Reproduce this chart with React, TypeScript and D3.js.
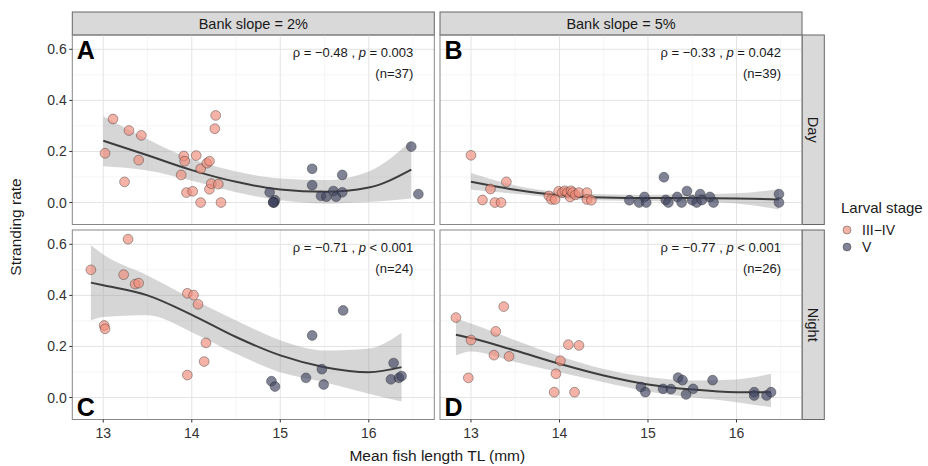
import React from 'react';
import * as d3 from 'd3';

// stage labels
const stages = ['III−IV', 'V'];
const columns = ['Bank slope = 2%', 'Bank slope = 5%'];
const rows = ['Day', 'Night'];
const xTicks = [13, 14, 15, 16];
const yTicks = [0, 0.2, 0.4, 0.6];

// panel A: day, 2%
const aEarly = [[13.02,0.193],[13.11,0.327],[13.24,0.081],[13.29,0.282],[13.40,0.166],[13.43,0.263],[13.88,0.108],[13.91,0.182],[13.92,0.162],[13.94,0.039],[14.01,0.044],[14.05,0.184],[14.10,0.132],[14.10,0.0],[14.17,0.154],[14.20,0.162],[14.20,0.052],[14.22,0.074],[14.26,0.289],[14.27,0.341],[14.30,0.072],[14.33,0.0]];
const aLate = [[14.88,0.040],[14.93,0.0],[14.94,0.009],[14.92,0.002],[14.92,0.0],[15.36,0.132],[15.36,0.068],[15.46,0.026],[15.52,0.023],[15.60,0.045],[15.63,0.023],[15.70,0.040],[15.70,0.108],[16.48,0.219],[16.56,0.033]];
const aFitX = [13.0, 13.5, 14.0, 14.5, 15.0, 15.5, 16.0, 16.48];
const aFit = [0.242, 0.185, 0.127, 0.081, 0.051, 0.042, 0.059, 0.129];
const aLo = [0.142, 0.125, 0.085, 0.040, 0.009, -0.004, 0.002, 0.016];
const aHi = [0.338, 0.248, 0.170, 0.122, 0.094, 0.088, 0.122, 0.242];

// panel B: day, 5%
const bEarly = [[13.0,0.185],[13.13,0.010],[13.22,0.053],[13.27,0.0],[13.34,0.0],[13.40,0.081],[13.88,0.026],[13.91,0.012],[13.95,0.012],[13.99,0.044],[14.03,0.039],[14.06,0.046],[14.09,0.039],[14.12,0.022],[14.13,0.046],[14.15,0.039],[14.18,0.030],[14.22,0.039],[14.31,0.039],[14.31,0.012],[14.36,0.009]];
const bLate = [[14.79,0.009],[14.90,0.0],[14.96,0.022],[14.98,0.0],[15.18,0.099],[15.20,0.010],[15.23,0.0],[15.33,0.022],[15.38,0.0],[15.44,0.045],[15.50,0.009],[15.55,0.0],[15.59,0.033],[15.61,0.010],[15.70,0.022],[15.74,0.0],[16.48,0.033],[16.48,0.0]];
const bFitX = [13.0, 13.5, 14.0, 14.5, 15.0, 15.5, 16.0, 16.48];
const bFit = [0.081, 0.050, 0.029, 0.020, 0.018, 0.018, 0.016, 0.012];
const bLo = [0.050, 0.034, 0.017, 0.008, 0.006, 0.004, -0.004, -0.027];
const bHi = [0.116, 0.067, 0.041, 0.032, 0.030, 0.032, 0.036, 0.052];

// panel C: night, 2%
const cEarly = [[12.86,0.50],[13.01,0.282],[13.02,0.269],[13.28,0.62],[13.23,0.481],[13.36,0.444],[13.40,0.448],[13.95,0.408],[14.02,0.401],[14.07,0.365],[13.95,0.088],[14.16,0.214],[14.14,0.141]];
const cLate = [[14.90,0.064],[14.94,0.043],[15.29,0.077],[15.36,0.243],[15.47,0.111],[15.49,0.051],[15.71,0.341],[16.25,0.071],[16.28,0.135],[16.34,0.077],[16.37,0.084]];
const cFitX = [12.86, 13.0, 13.5, 14.0, 14.5, 15.0, 15.5, 16.0, 16.37];
const cFit = [0.450, 0.440, 0.400, 0.324, 0.237, 0.165, 0.119, 0.099, 0.119];
const cLo = [0.302, 0.315, 0.322, 0.256, 0.171, 0.099, 0.060, 0.015, -0.016];
const cHi = [0.596, 0.560, 0.478, 0.387, 0.302, 0.224, 0.184, 0.192, 0.254];

// panel D: night, 5%
const dEarly = [[12.83,0.313],[13.0,0.225],[12.97,0.077],[13.28,0.259],[13.26,0.166],[13.37,0.356],[13.43,0.161],[13.94,0.021],[13.96,0.093],[14.01,0.144],[14.10,0.207],[14.22,0.204],[14.17,0.021]];
const dLate = [[14.92,0.041],[14.97,0.021],[15.17,0.034],[15.26,0.033],[15.34,0.078],[15.39,0.068],[15.43,0.012],[15.51,0.034],[15.73,0.068],[16.20,0.021],[16.20,0.008],[16.34,0.008],[16.39,0.021]];
const dFitX = [12.83, 13.0, 13.5, 14.0, 14.5, 15.0, 15.5, 16.0, 16.39];
const dFit = [0.246, 0.233, 0.184, 0.132, 0.086, 0.051, 0.031, 0.021, 0.021];
const dLo = [0.165, 0.180, 0.139, 0.099, 0.060, 0.024, 0.001, -0.018, -0.038];
const dHi = [0.309, 0.290, 0.224, 0.162, 0.112, 0.080, 0.067, 0.071, 0.093];

const panels = [
  { label: 'A', col: 0, row: 0, early: aEarly, late: aLate, fx: aFitX, fit: aFit, lo: aLo, hi: aHi, rho: '−0.48', p: '= 0.003', n: 37 },
  { label: 'B', col: 1, row: 0, early: bEarly, late: bLate, fx: bFitX, fit: bFit, lo: bLo, hi: bHi, rho: '−0.33', p: '= 0.042', n: 39 },
  { label: 'C', col: 0, row: 1, early: cEarly, late: cLate, fx: cFitX, fit: cFit, lo: cLo, hi: cHi, rho: '−0.71', p: '< 0.001', n: 24 },
  { label: 'D', col: 1, row: 1, early: dEarly, late: dLate, fx: dFitX, fit: dFit, lo: dLo, hi: dHi, rho: '−0.77', p: '< 0.001', n: 26 },
];

const colLeft = [72.3, 440];
const rowTop = [35, 230];
const pw = 362;
const ph = 189.5;
const fills = ['#f08b79', '#3f4460'];
const font = 'Liberation Sans, Arial, sans-serif';

export default function App() {
  const x = d3.scaleLinear().domain([12.65, 16.74]).range([0, pw]);
  const y = d3.scaleLinear().domain([-0.086, 0.656]).range([ph, 0]);
  const xMinor = d3.range(12.5, 17, 0.5).filter(v => v > 12.65 && v < 16.74 && !xTicks.includes(v));
  const yMinor = [0.1, 0.3, 0.5];

  return (
    <svg width={928} height={466} style={{ position: 'absolute', left: 0, top: 0 }} fontFamily={font}>
      <rect width={928} height={466} fill="#fff" />
      {columns.map((c, i) => (
        <g key={c} transform={`translate(${colLeft[i]},12)`}>
          <rect width={pw} height={23} fill="#d9d9d9" stroke="#666" strokeWidth={1} />
          <text x={pw / 2} y={16.5} textAnchor="middle" fontSize={14.5} fill="#1a1a1a">{c}</text>
        </g>
      ))}
      {rows.map((r, i) => (
        <g key={r} transform={`translate(802.3,${rowTop[i]})`}>
          <rect width={22} height={ph} fill="#d9d9d9" stroke="#666" strokeWidth={1} />
          <text transform={`translate(11,${ph / 2}) rotate(90)`} textAnchor="middle" dy="0.35em" fontSize={14.5} fill="#1a1a1a">{r}</text>
        </g>
      ))}
      {panels.map(p => {
        const area = d3.area<number>()
          .x((_, i) => x(p.fx[i]))
          .y0((_, i) => y(p.lo[i]))
          .y1((_, i) => y(p.hi[i]))
          .curve(d3.curveMonotoneX);
        const line = d3.line<number>()
          .x((_, i) => x(p.fx[i]))
          .y(d => y(d))
          .curve(d3.curveMonotoneX);
        const left = colLeft[p.col];
        const top = rowTop[p.row];
        return (
          <g key={p.label} transform={`translate(${left},${top})`}>
            {xMinor.map(v => <line key={'xm' + v} x1={x(v)} x2={x(v)} y1={0} y2={ph} stroke="#f3f3f3" strokeWidth={0.8} />)}
            {yMinor.map(v => <line key={'ym' + v} x1={0} x2={pw} y1={y(v)} y2={y(v)} stroke="#f3f3f3" strokeWidth={0.8} />)}
            {xTicks.map(v => <line key={'x' + v} x1={x(v)} x2={x(v)} y1={0} y2={ph} stroke="#e4e4e4" strokeWidth={1} />)}
            {yTicks.map(v => <line key={'y' + v} x1={0} x2={pw} y1={y(v)} y2={y(v)} stroke="#e4e4e4" strokeWidth={1} />)}
            <path d={area(p.fit) || ''} fill="#999" fillOpacity={0.4} />
            <path d={line(p.fit) || ''} fill="none" stroke="#3d3d3d" strokeWidth={2} />
            {[p.early, p.late].map((pts, si) =>
              pts.map((d, j) => (
                <circle key={si + '-' + j} cx={x(d[0])} cy={y(d[1])} r={4.9}
                  fill={fills[si]} fillOpacity={0.66} stroke="#222" strokeOpacity={0.55} strokeWidth={0.7} />
              ))
            )}
            <rect width={pw} height={ph} fill="none" stroke="#888" strokeWidth={1} />
            <text x={4.5} y={p.row === 0 ? 24 : ph - 3.5} fontSize={25} fontWeight="bold" fill="#000">{p.label}</text>
            <text x={pw - 21} y={22} textAnchor="end" fontSize={13} fill="#1a1a1a">
              ρ = {p.rho} , <tspan fontStyle="italic">p</tspan> {p.p}
            </text>
            <text x={pw - 21} y={43} textAnchor="end" fontSize={13} fill="#1a1a1a">(n={p.n})</text>
            {p.col === 0 && yTicks.map(v => (
              <g key={'yt' + v}>
                <line x1={-3} x2={0} y1={y(v)} y2={y(v)} stroke="#333" />
                <text x={-5.5} y={y(v)} dy="0.36em" textAnchor="end" fontSize={14} fill="#333">{v.toFixed(1)}</text>
              </g>
            ))}
            {p.row === 1 && xTicks.map(v => (
              <g key={'xt' + v}>
                <line x1={x(v)} x2={x(v)} y1={ph} y2={ph + 3} stroke="#333" />
                <text x={x(v)} y={ph + 18} textAnchor="middle" fontSize={14} fill="#333">{v}</text>
              </g>
            ))}
          </g>
        );
      })}
      <text transform="translate(21,227) rotate(-90)" textAnchor="middle" fontSize={15.5} fill="#1a1a1a">Stranding rate</text>
      <text x={437.3} y={461} textAnchor="middle" fontSize={15.5} fill="#1a1a1a">Mean fish length TL (mm)</text>
      <g transform="translate(841,0)">
        <text x={0} y={213} fontSize={15} fill="#1a1a1a">Larval stage</text>
        {stages.map((s, i) => (
          <g key={s} transform={`translate(0,${230 + i * 17})`}>
            <circle cx={6} cy={0} r={4} fill={fills[i]} fillOpacity={0.66} stroke="#222" strokeOpacity={0.55} strokeWidth={0.7} />
            <text x={21} y={0} dy="0.36em" fontSize={14} fill="#1a1a1a">{s}</text>
          </g>
        ))}
      </g>
    </svg>
  );
}
